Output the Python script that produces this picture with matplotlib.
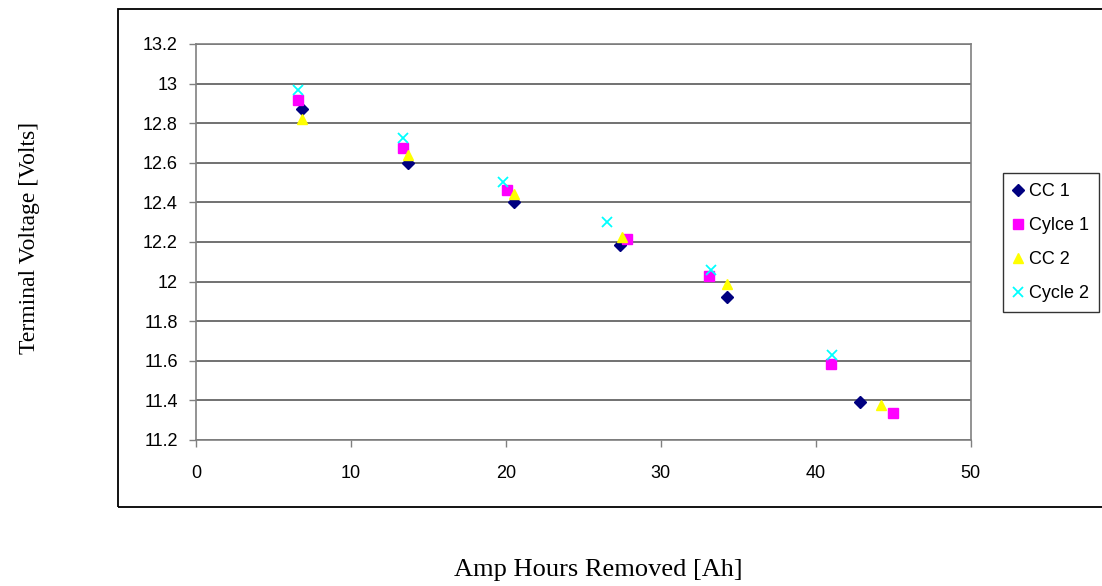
import matplotlib
matplotlib.use("Agg")
import matplotlib.pyplot as plt
from matplotlib.patches import Rectangle

# values
cc1_ah = [6.84, 13.67, 20.53, 27.37, 34.3, 42.85]
cc1_v = [12.87, 12.60, 12.40, 12.185, 11.924, 11.39]
cycle1_ah = [6.56, 13.39, 20.06, 27.85, 33.1, 41.0, 45.0]
cycle1_v = [12.917, 12.673, 12.463, 12.215, 12.028, 11.582, 11.335]
cc2_ah = [6.84, 13.67, 20.53, 27.48, 34.3, 44.2]
cc2_v = [12.82, 12.64, 12.44, 12.227, 11.99, 11.377]
cycle2_ah = [6.6, 13.34, 19.84, 26.5, 33.25, 41.04]
cycle2_v = [12.97, 12.724, 12.505, 12.30, 12.058, 11.63]

x_ticks = [0, 10, 20, 30, 40, 50]
y_ticks = [11.2, 11.4, 11.6, 11.8, 12.0, 12.2, 12.4, 12.6, 12.8, 13.0, 13.2]
y_labels = ["11.2", "11.4", "11.6", "11.8", "12", "12.2", "12.4", "12.6", "12.8", "13", "13.2"]

plt.rcParams["font.family"] = ["Liberation Sans", "DejaVu Sans"]

fig = plt.figure(figsize=(11.02, 5.86), dpi=100)
W, H = 1102, 586

# outer chart frame (right edge runs off the picture)
fig.patches.append(Rectangle((118 / W, 1 - 507 / H), 1000 / W, 498 / H,
                             transform=fig.transFigure, fill=False,
                             edgecolor="black", linewidth=1.3))

ax = fig.add_axes([196 / W, 1 - 440 / H, 774.6 / W, 396 / H])

ax.plot(cc1_ah, cc1_v, linestyle="none", marker="D", markersize=6,
        color="#000080", label="CC 1")
ax.plot(cycle1_ah, cycle1_v, linestyle="none", marker="s", markersize=6.5,
        color="#FF00FF", label="Cylce 1")
ax.plot(cc2_ah, cc2_v, linestyle="none", marker="^", markersize=7.5,
        color="#FFFF00", label="CC 2")
ax.plot(cycle2_ah, cycle2_v, linestyle="none", marker="x", markersize=7,
        markeredgewidth=1.3, color="#00FFFF", label="Cycle 2")

ax.set_xlim(0, 50)
ax.set_ylim(11.2, 13.2)
ax.set_xticks(x_ticks)
ax.set_yticks(y_ticks)
ax.set_yticklabels(y_labels)
ax.tick_params(direction="out", length=5, width=1, color="#808080",
               labelsize=13)
ax.tick_params(axis="x", pad=13)
ax.tick_params(axis="y", pad=8)
ax.yaxis.grid(True, color="#4a4a4a", linewidth=1.1)
ax.set_axisbelow(True)
for sp in ax.spines.values():
    sp.set_color("#808080")
    sp.set_linewidth(1.2)

fig.text(30 / W, 1 - 238 / H, "Terminal Voltage [Volts]", rotation=90,
         ha="center", va="center", fontsize=17, family="Liberation Serif")
fig.text(598 / W, 1 - 570 / H, "Amp Hours Removed [Ah]",
         ha="center", va="center", fontsize=19, family="Liberation Serif")

leg = ax.legend(loc="upper left", bbox_to_anchor=(1003 / W, 1 - 173 / H),
                bbox_transform=fig.transFigure, fontsize=13, frameon=True,
                fancybox=False, handlelength=0.6, handletextpad=0.3,
                labelspacing=0.95, borderpad=0.55, borderaxespad=0)
leg.get_frame().set_edgecolor("black")
leg.get_frame().set_linewidth(1)

fig.savefig("out.png", dpi=100)
